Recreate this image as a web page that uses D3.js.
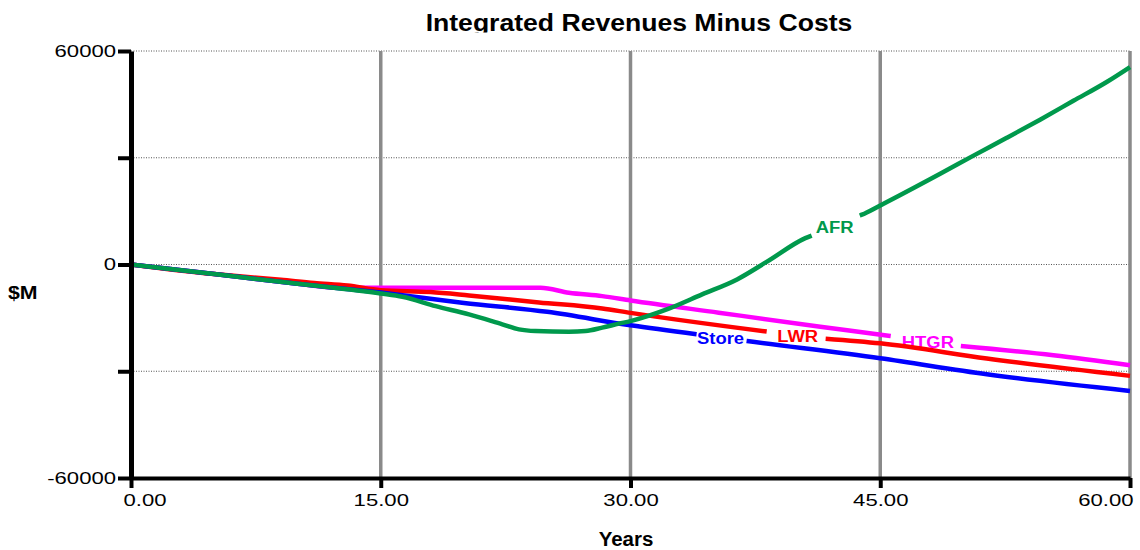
<!DOCTYPE html>
<html><head><meta charset="utf-8">
<script src="https://cdn.jsdelivr.net/npm/d3@7"></script>
<style>body{margin:0;background:#fff}svg{display:block}text{font-family:"Liberation Sans",Arial,sans-serif}</style>
</head><body><svg id="c" width="1140" height="550"></svg>
<script>
const chartTitle = "Integrated Revenues Minus Costs";
const xTitle = "Years";
const yTitle = "$M";
const xTicks = [0, 15, 30, 45, 60];
const xTickLabels = ["0.00", "15.00", "30.00", "45.00", "60.00"];
const yTicks = [60000, 30000, 0, -30000, -60000];
const yTickLabels = ["60000", "", "0", "", "-60000"];

const seriesNames = ["HTGR", "LWR", "Store", "AFR"];
const seriesColors = ["#ff00ff", "#ff0000", "#0000ff", "#00994c"];

const htgrT = [0, 5, 10, 12.3, 24.6, 26.3, 28.3, 30, 35.3, 41.4, 45.6, 49.8, 55.4, 60];
const htgrV = [0, -2700, -5400, -6530, -6530, -7940, -8890, -10100, -13540, -17470, -20100, -22900, -25520, -28320];

const lwrT = [0, 5, 6.5, 9, 11, 13, 15, 18, 20.3, 24.5, 28.3, 30, 38.2, 41.7, 45, 51.4, 60];
const lwrV = [0, -2700, -3300, -4300, -5200, -5900, -7200, -7750, -8700, -10650, -12340, -13600, -18870, -20830, -22150, -26440, -31300];

const storeT = [0, 5, 10, 15, 20, 25, 30, 34, 37, 45, 51.4, 60];
const storeV = [0, -2700, -5400, -7900, -10800, -13300, -17100, -19630, -21500, -26360, -30840, -35530];

const afrT = [0, 5, 10, 15, 16.3, 18.3, 20.3, 22.3, 23.3, 24.3, 26.3, 27.3, 28.3, 29.3, 30, 32.3, 34.3, 36.4, 38.2, 40.5, 43.9, 45, 48.6, 50.6, 52.6, 54.6, 56.6, 58.6, 60];
const afrV = [0, -2700, -5400, -8130, -9060, -11700, -14020, -16820, -18230, -18700, -18870, -18700, -17750, -16630, -15900, -12420, -8410, -4200, 800, 7400, 14000, 16600, 25500, 30600, 35600, 40700, 46000, 51300, 55500];

// label spot (years) and the gap the label cuts in its line
const labelCenter = [47.86, 40.04, 35.41, 42.26];
const labelGapStart = [45.63, 38.18, 33.97, 40.88];
const labelGapEnd = [49.84, 41.72, 36.97, 43.77];

const seriesT = [htgrT, lwrT, storeT, afrT];
const seriesV = [htgrV, lwrV, storeV, afrV];

const svg = d3.select("#c");
const x = d3.scaleLinear().domain([0, 60]).range([131, 1130]);
const y = d3.scaleLinear().domain([-60000, 60000]).range([478, 51]);

function stretch(sel, k) {
  sel.each(function () {
    const n = this.getComputedTextLength();
    if (n > 0) {
      this.setAttribute("textLength", n * k);
      this.setAttribute("lengthAdjust", "spacingAndGlyphs");
    }
  });
}

// horizontal dotted grid
svg.append("g").selectAll("line").data(yTicks.filter(d => d > -60000)).join("line")
  .attr("x1", x(0)).attr("x2", x(60))
  .attr("y1", d => y(d)).attr("y2", d => y(d))
  .attr("stroke", "#555").attr("stroke-width", 1).attr("stroke-dasharray", "1,1.5");

// vertical grid
svg.append("g").selectAll("line").data(xTicks.filter(d => d > 0)).join("line")
  .attr("x1", d => x(d)).attr("x2", d => x(d))
  .attr("y1", y(60000)).attr("y2", y(-60000))
  .attr("stroke", "#8a8a8a").attr("stroke-width", 3.5);

// series
const lineGen = d3.line().x(d => x(d[0])).y(d => y(d[1])).curve(d3.curveMonotoneX);
function interp(T, V, t) {
  for (let i = 1; i < T.length; i++) {
    if (t <= T[i]) {
      const f = (t - T[i - 1]) / (T[i] - T[i - 1]);
      return V[i - 1] + f * (V[i] - V[i - 1]);
    }
  }
  return V[V.length - 1];
}
seriesNames.forEach((name, i) => {
  const T = seriesT[i], V = seriesV[i];
  const g0 = labelGapStart[i], g1 = labelGapEnd[i];
  const seg1 = [], seg2 = [];
  T.forEach((t, j) => { if (t < g0) seg1.push([t, V[j]]); });
  seg1.push([g0, interp(T, V, g0)]);
  seg2.push([g1, interp(T, V, g1)]);
  T.forEach((t, j) => { if (t > g1) seg2.push([t, V[j]]); });
  const g = svg.append("g");
  [seg1, seg2].forEach(seg => {
    g.append("path").attr("d", lineGen(seg)).attr("fill", "none")
      .attr("stroke", seriesColors[i]).attr("stroke-width", 4.5)
      .attr("stroke-linejoin", "round");
  });
  const tc = labelCenter[i];
  const lab = g.append("text").attr("x", x(tc)).attr("y", y(interp(T, V, tc)) + 7)
    .attr("text-anchor", "middle").attr("font-weight", "bold").attr("font-size", 16)
    .attr("fill", seriesColors[i]).text(name);
  stretch(lab, 1.15);
});

// axes
const yAxis = d3.axisLeft(y).tickValues(yTicks).tickFormat((d, i) => yTickLabels[i])
  .tickSize(13).tickSizeOuter(0).tickPadding(2);
const ya = svg.append("g").attr("transform", `translate(${x(0)},0)`).call(yAxis);
ya.select(".domain").attr("stroke", "#000").attr("stroke-width", 5);
ya.selectAll(".tick line").attr("stroke", "#000").attr("stroke-width", 4);
ya.selectAll(".tick text").attr("font-size", 17).attr("fill", "#000")
  .attr("font-family", "Liberation Sans, Arial, sans-serif");
stretch(ya.selectAll(".tick text"), 1.3);

const xAxis = d3.axisBottom(x).tickValues(xTicks).tickFormat((d, i) => xTickLabels[i])
  .tickSize(10).tickSizeOuter(0).tickPadding(6);
const xa = svg.append("g").attr("transform", `translate(0,${y(-60000)})`).call(xAxis);
xa.select(".domain").attr("stroke", "#000").attr("stroke-width", 4);
xa.selectAll(".tick line").attr("stroke", "#000").attr("stroke-width", 4);
xa.selectAll(".tick text").attr("font-size", 17).attr("fill", "#000")
  .attr("font-family", "Liberation Sans, Arial, sans-serif");
xa.selectAll(".tick text").filter((d, i) => i === 0).attr("text-anchor", "start").attr("x", -8);
xa.selectAll(".tick text").filter((d, i) => i === xTicks.length - 1).attr("text-anchor", "end").attr("x", 3);
stretch(xa.selectAll(".tick text"), 1.3);

// titles
svg.append("clipPath").attr("id", "tclip").append("rect")
  .attr("x", 0).attr("y", 0).attr("width", 1140).attr("height", 32.5);
const tt = svg.append("text").attr("clip-path", "url(#tclip)")
  .attr("x", 639).attr("y", 31).attr("text-anchor", "middle")
  .attr("font-weight", "bold").attr("font-size", 24).attr("fill", "#000").text(chartTitle);
stretch(tt, 1.107);

const xt = svg.append("text").attr("x", 626).attr("y", 546).attr("text-anchor", "middle")
  .attr("font-weight", "bold").attr("font-size", 19.5).attr("fill", "#000").text(xTitle);
stretch(xt, 1.05);

const yt = svg.append("text").attr("x", 8).attr("y", 299)
  .attr("font-weight", "bold").attr("font-size", 19).attr("fill", "#000").text(yTitle);
stretch(yt, 1.12);
</script></body></html>
